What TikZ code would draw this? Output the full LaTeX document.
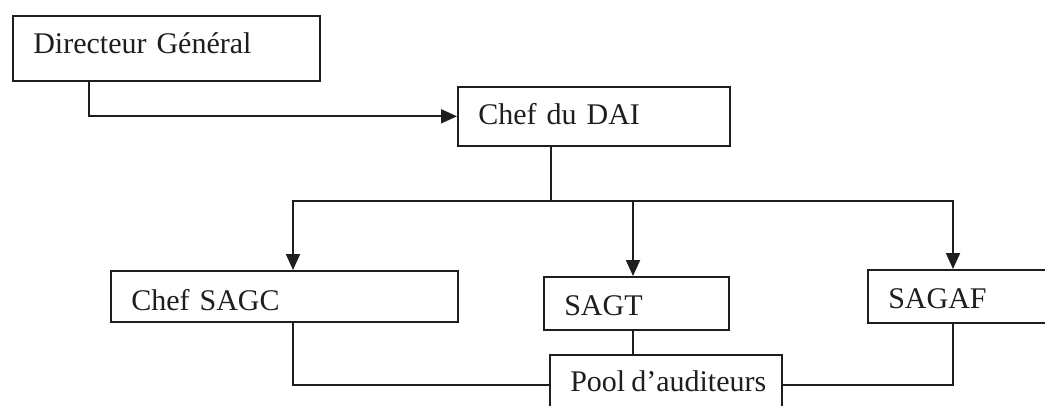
\documentclass[tikz,border=0pt]{standalone}
\usepackage{fontspec}
\setmainfont{Liberation Serif}
\usetikzlibrary{arrows.meta,calc}
\definecolor{ink}{HTML}{1E1E1E}
\begin{document}
\begin{tikzpicture}[x=1pt,y=-1pt,
  box/.style={draw=ink, line width=1.6pt, anchor=north west,
    inner xsep=20.5pt, inner ysep=0pt, align=left, text=ink,
    font=\fontsize{30}{36}\selectfont, text depth=4pt},
  link/.style={draw=ink, line width=2pt, line cap=rect},
  arr/.style={link, -{Triangle[length=16pt,width=14pt]}}]
  \useasboundingbox (0,0) rectangle (1045,405);
  \fill[white] (0,0) rectangle (1045,405);
  \clip (0,0) rectangle (1045,405);

  % boxes of the organisation chart
  \node[box, minimum width=307pt, text width=266pt, minimum height=65pt, text height=15pt]
    (dg) at (12,15) {Directeur Général};
  \node[box, minimum width=272pt, text width=231pt, minimum height=59pt, text height=21pt]
    (dai) at (457,86) {Chef du DAI};
  \node[box, minimum width=347pt, text width=306pt, minimum height=51pt, text height=33pt]
    (sagc) at (110,270) {Chef SAGC};
  \node[box, minimum width=185pt, text width=144pt, minimum height=53pt, text height=29pt]
    (sagt) at (543,276) {SAGT};
  \node[box, minimum width=200pt, text width=159pt, minimum height=53pt, text height=29pt]
    (sagaf) at (867,269) {SAGAF};
  \node[box, minimum width=232pt, text width=191pt, minimum height=60pt, text height=18pt]
    (pool) at (549,354) {\mbox{Pool\hspace{6pt}d’auditeurs}};

  % branch points on the distribution line
  \coordinate (hub) at (551,201);
  \coordinate (bl) at (293,201);
  \coordinate (bm) at (633,201);
  \coordinate (br) at (953,201);

  % connectors
  \draw[arr] ($(dg.south west)+(77,0)$) |- (dai.west);
  \draw[link] (dai.south -| hub) -- (hub);
  \draw[link] (bl) -- (br);
  \draw[arr] (bl) -- (bl |- sagc.north);
  \draw[arr] (bm) -- (bm |- sagt.north);
  \draw[arr] (br) -- (br |- sagaf.north);
  \draw[link] (bl |- sagc.south) |- (pool.west);
  \draw[link] (bm |- sagt.south) -- (bm |- pool.north);
  \draw[link] (br |- sagaf.south) |- (pool.east);
\end{tikzpicture}
\end{document}
